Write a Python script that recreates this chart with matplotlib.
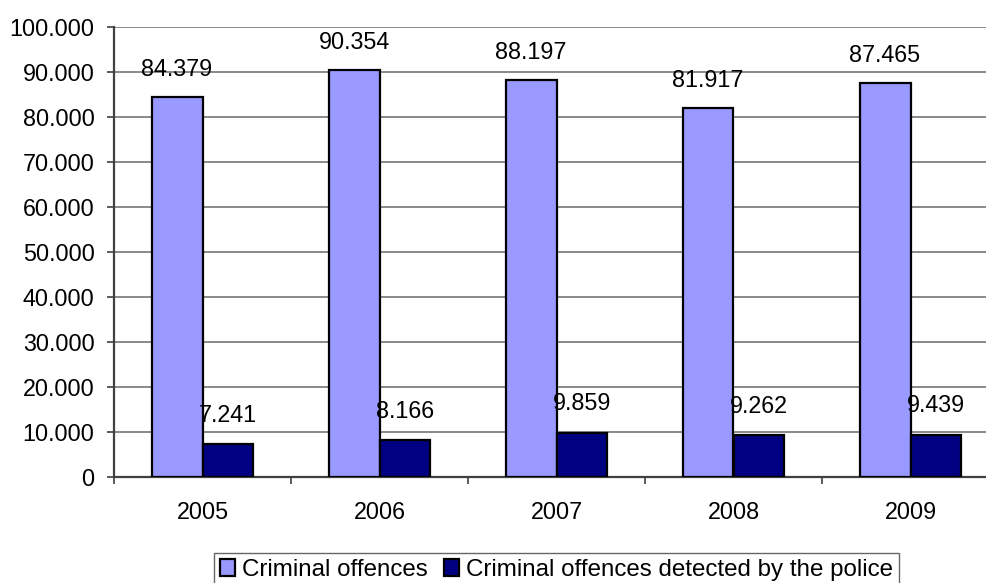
import matplotlib
matplotlib.use("Agg")
import matplotlib.pyplot as plt
import numpy as np

years = ["2005", "2006", "2007", "2008", "2009"]
offences = [84379, 90354, 88197, 81917, 87465]
detected = [7241, 8166, 9859, 9262, 9439]
labels_off = ["84.379", "90.354", "88.197", "81.917", "87.465"]
labels_det = ["7.241", "8.166", "9.859", "9.262", "9.439"]
series_names = ["Criminal offences", "Criminal offences detected by the police"]
yticks = list(range(0, 100001, 10000))
ytick_labels = ["0"] + [f"{v//1000}.000" for v in yticks[1:]]

FS = 16.8
plt.rcParams['font.family'] = ['Liberation Sans', 'DejaVu Sans']
fig = plt.figure(figsize=(9.87, 5.83), dpi=100)
# axes spans x 114..999 px, y 27..477 px
ax = fig.add_axes([114/987, 1 - 477/583, 885/987, 450/583])

x = np.arange(len(years))
w = 0.288
b1 = ax.bar(x - w/2, offences, w, color="#9999FF", edgecolor="black", linewidth=1.6, label=series_names[0], zorder=3)
b2 = ax.bar(x + w/2, detected, w, color="#000080", edgecolor="black", linewidth=1.6, label=series_names[1], zorder=3)

for rect, lab in zip(b1, labels_off):
    ax.annotate(lab, (rect.get_x() + rect.get_width()/2, rect.get_height()),
                xytext=(0, 20), textcoords="offset points", ha="center", va="center", fontsize=FS)
for rect, lab in zip(b2, labels_det):
    ax.annotate(lab, (rect.get_x() + rect.get_width()/2, rect.get_height()),
                xytext=(0, 21), textcoords="offset points", ha="center", va="center", fontsize=FS)

ax.set_xlim(-0.5, len(years) - 0.5)
ax.set_ylim(0, 100000)
ax.set_yticks(yticks)
ax.set_yticklabels(ytick_labels, fontsize=FS)
ax.set_xticks(x)
ax.set_xticklabels(years, fontsize=FS)
ax.set_xticks(np.arange(-0.5, len(years)), minor=True)
ax.tick_params(axis="x", which="major", length=0, pad=17)
ax.tick_params(axis="x", which="minor", length=5, color="#404040", width=1.2, direction="out")
ax.tick_params(axis="y", length=5, color="#404040", width=1.2, direction="out", pad=9)
ax.yaxis.grid(True, color="#808080", linewidth=1.3, zorder=0)
ax.set_axisbelow(True)
for s in ["top", "right"]:
    ax.spines[s].set_visible(False)
for s in ["left", "bottom"]:
    ax.spines[s].set_color("#404040")
    ax.spines[s].set_linewidth(1.6)

leg = fig.legend(loc="upper left", bbox_to_anchor=(214/987, 1 - 553/583), ncol=2, fontsize=17.4,
                 frameon=True, fancybox=False, edgecolor="#404040", handlelength=0.62,
                 handleheight=0.72, handletextpad=0.3, columnspacing=0.65, borderpad=0.25,
                 borderaxespad=0)
leg.get_frame().set_linewidth(1.0)

fig.savefig("out.png", dpi=100)
